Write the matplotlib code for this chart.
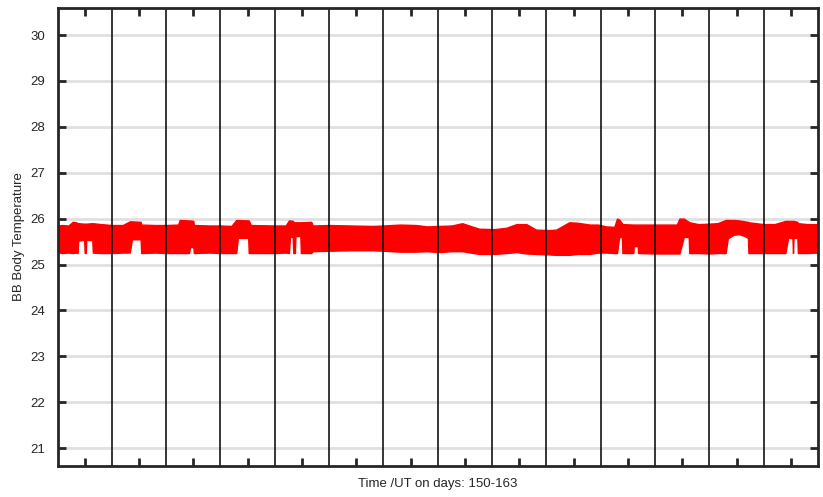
import numpy as np
import matplotlib.pyplot as plt

plt.rcParams['font.family'] = ['Liberation Sans', 'DejaVu Sans']

# envelope of the BB body temperature trace (day, upper, lower)
day = [150.00, 150.08, 150.20, 150.28, 150.34, 150.37, 150.38, 150.49, 150.50, 150.52,
       150.53, 150.64, 150.65, 150.80, 151.00, 151.20, 151.33, 151.37, 151.53, 151.54,
       151.80, 152.00, 152.22, 152.25, 152.42, 152.44, 152.50, 152.51, 152.80, 153.00,
       153.20, 153.29, 153.32, 153.51, 153.52, 153.56, 154.00, 154.20, 154.26, 154.28,
       154.33, 154.34, 154.37, 154.38, 154.47, 154.48, 154.67, 154.70, 155.00, 155.40,
       155.80, 156.00, 156.30, 156.60, 156.80, 157.03, 157.26, 157.45, 157.55, 157.76,
       158.04, 158.26, 158.45, 158.63, 158.81, 159.05, 159.18, 159.42, 159.57, 159.80,
       159.95, 160.10, 160.25, 160.30, 160.34, 160.39, 160.40, 160.60, 160.61, 160.68,
       160.69, 161.00, 161.40, 161.45, 161.53, 161.62, 161.63, 161.80, 162.00, 162.15,
       162.30, 162.34, 162.45, 162.55, 162.65, 162.71, 162.72, 163.00, 163.20, 163.40,
       163.45, 163.53, 163.54, 163.55, 163.62, 163.63, 163.80, 164.00]
temp_hi = [25.85, 25.86, 25.85, 25.93, 25.92, 25.90, 25.90, 25.89, 25.89, 25.89,
           25.89, 25.90, 25.90, 25.88, 25.86, 25.86, 25.94, 25.94, 25.93, 25.87,
           25.86, 25.86, 25.87, 25.97, 25.96, 25.96, 25.95, 25.86, 25.85, 25.85,
           25.84, 25.97, 25.97, 25.96, 25.96, 25.86, 25.85, 25.85, 25.96, 25.96,
           25.95, 25.93, 25.92, 25.92, 25.92, 25.92, 25.93, 25.85, 25.86, 25.85,
           25.84, 25.85, 25.87, 25.86, 25.83, 25.84, 25.85, 25.90, 25.86, 25.78,
           25.77, 25.80, 25.88, 25.88, 25.76, 25.75, 25.76, 25.92, 25.91, 25.87,
           25.87, 25.83, 25.82, 26.00, 25.98, 25.90, 25.88, 25.87, 25.87, 25.87,
           25.87, 25.87, 25.87, 26.00, 26.00, 25.93, 25.92, 25.88, 25.89, 25.90,
           25.97, 25.97, 25.97, 25.96, 25.94, 25.93, 25.92, 25.88, 25.88, 25.95,
           25.95, 25.95, 25.95, 25.95, 25.93, 25.90, 25.88, 25.88]
temp_lo = [25.27, 25.25, 25.26, 25.25, 25.26, 25.25, 25.52, 25.54, 25.25, 25.25,
           25.54, 25.53, 25.26, 25.25, 25.25, 25.26, 25.26, 25.55, 25.55, 25.25,
           25.26, 25.25, 25.25, 25.25, 25.25, 25.38, 25.38, 25.25, 25.26, 25.25,
           25.25, 25.25, 25.58, 25.58, 25.25, 25.25, 25.25, 25.26, 25.25, 25.60,
           25.60, 25.25, 25.25, 25.62, 25.62, 25.25, 25.25, 25.29, 25.30, 25.31,
           25.31, 25.30, 25.28, 25.28, 25.29, 25.27, 25.29, 25.29, 25.27, 25.23,
           25.23, 25.25, 25.27, 25.24, 25.23, 25.22, 25.21, 25.21, 25.23, 25.23,
           25.26, 25.26, 25.25, 25.25, 25.60, 25.60, 25.25, 25.25, 25.40, 25.40,
           25.25, 25.24, 25.24, 25.24, 25.60, 25.60, 25.25, 25.25, 25.24, 25.25,
           25.25, 25.57, 25.65, 25.66, 25.62, 25.58, 25.25, 25.25, 25.25, 25.25,
           25.58, 25.58, 25.25, 25.58, 25.58, 25.25, 25.25, 25.26]

day_lines = list(range(151, 164))
yticks = list(range(21, 31))

fig = plt.figure(figsize=(8.23, 4.97), dpi=100)
ax = fig.add_axes([0.0699, 0.0624, 0.924, 0.9216])

for y in yticks:
    ax.axhline(y, color='#e0e0e0', lw=2, zorder=0)

ax.fill_between(day, temp_lo, temp_hi, color='red', edgecolor='red', lw=1, zorder=2)

for d in day_lines:
    ax.axvline(d, color='black', lw=1.1, zorder=3)

ax.set_xlim(150, 164)
ax.set_ylim(20.61, 30.59)
ax.set_yticks(yticks)
ax.set_xticks(np.arange(150.5, 164, 1))
ax.set_xticklabels([])
ax.tick_params(axis='both', direction='in', length=6, width=2, color='#262626',
               top=True, right=True, labelsize=9.5, labelcolor='#262626')
ax.tick_params(axis='y', pad=9)
for s in ax.spines.values():
    s.set_linewidth(2)
    s.set_color('#262626')
    s.set_zorder(4)

ax.set_xlabel('Time /UT on days: 150-163', fontsize=9.5, color='#262626', labelpad=5)
ax.set_ylabel('BB Body Temperature', fontsize=9.5, color='#262626', labelpad=4)

fig.savefig('out.png', dpi=100)
